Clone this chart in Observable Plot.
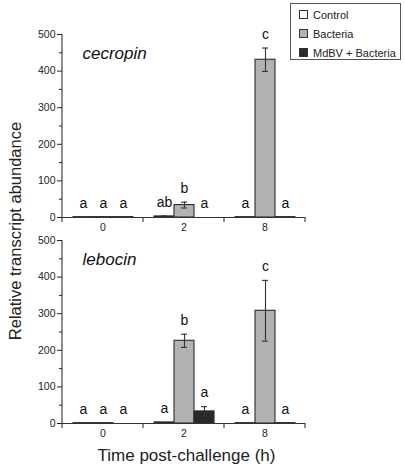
<!DOCTYPE html>
<html><head><meta charset="utf-8">
<script src="https://cdn.jsdelivr.net/npm/d3@7"></script>
<script src="https://cdn.jsdelivr.net/npm/@observablehq/plot@0.6"></script>
<style>
body{margin:0;background:#fff;font-family:"Liberation Sans",Arial,sans-serif;color:#222}
#wrap{position:relative;width:405px;height:468px;overflow:hidden}
.panel{position:absolute;left:0}
#ytitle{position:absolute;left:-115px;top:221px;width:260px;height:20px;line-height:20px;text-align:center;font-size:16.5px;transform:rotate(-90deg);transform-origin:center;white-space:nowrap}
#xtitle{position:absolute;left:0;top:446px;width:373px;line-height:20px;text-align:center;font-size:17px;white-space:nowrap}
#legend{position:absolute;left:290px;top:3px;width:109px;height:55px;border:1px solid #555;background:#fff;font-size:11px}
#legend .row{position:absolute;left:8px;height:14px;line-height:14px;white-space:nowrap}
#legend .sw{display:inline-block;width:7px;height:7px;border:1px solid #333;margin-right:5px;vertical-align:0px}
</style></head><body><div id="wrap"></div>
<script>
const times = ["0", "2", "8"];
const treatments = ["Control", "Bacteria", "MdBV + Bacteria"];
const cecropinMean = [1, 1, 1, 3, 34, 0, 1, 431, 1];
const cecropinErr = [0, 0, 0, 1, 8, 0, 0, 32, 0];
const cecropinLetters = ["a", "a", "a", "ab", "b", "a", "a", "c", "a"];
const lebocinMean = [1, 1, 0, 3, 226, 33, 1, 308, 1];
const lebocinErr = [0, 0, 0, 0, 18, 13, 0, 83, 0];
const lebocinLetters = ["a", "a", "a", "a", "b", "a", "a", "c", "a"];
const yTicks = [0, 100, 200, 300, 400, 500];
const yMinor = [50, 150, 250, 350, 450];

function rows(mean, err, letters) {
  return mean.map((v, i) => ({time: times[Math.floor(i / 3)], treatment: treatments[i % 3], value: v, err: err[i], letter: letters[i]}));
}
const fills = ["#ffffff", "#b2b2b2", "#282828"];
const font = '"Liberation Sans", Arial, sans-serif';

function panel(gene, mean, err, letters, o) {
  const data = rows(mean, err, letters);
  const withErr = data.filter(d => d.err > 0);
  const p = Plot.plot({
    width: 405, height: o.height,
    marginLeft: 62, marginRight: 100, marginTop: o.mt, marginBottom: o.mb,
    style: {fontFamily: font, fontSize: "10.5px", color: "#222", background: "transparent", overflow: "visible"},
    fx: {domain: times, padding: 0, label: null},
    x: {domain: treatments, paddingInner: 0, paddingOuter: 0.46, axis: null},
    y: {domain: [0, 500], axis: null},
    color: {domain: treatments, range: fills},
    marks: [
      Plot.barY(data, {fx: "time", x: "treatment", y: "value", fill: "treatment", stroke: "#2a2a2a", strokeWidth: 1.1}),
      Plot.ruleX(withErr, {fx: "time", x: "treatment", y1: d => d.value - d.err, y2: d => d.value + d.err, stroke: "#333", strokeWidth: 1.1}),
      Plot.tickY(withErr, {fx: "time", x: "treatment", y: d => d.value + d.err, stroke: "#333", strokeWidth: 1.1, insetLeft: 7, insetRight: 7}),
      Plot.tickY(withErr, {fx: "time", x: "treatment", y: d => d.value - d.err, stroke: "#333", strokeWidth: 1.1, insetLeft: 7, insetRight: 7}),
      Plot.ruleY([0], {stroke: "#333", strokeWidth: 1.1}),
      Plot.text(data, {fx: "time", x: "treatment", y: d => d.value + d.err, text: "letter", dy: -14, fontSize: 14, lineAnchor: "middle", fill: "#111"}),
      Plot.axisY({ticks: yTicks, tickSize: 5, tickPadding: 2, label: null, fontSize: 10.5}),
      Plot.axisY({ticks: yMinor, tickSize: 3, text: null, label: null}),
      Plot.axisFx({anchor: "bottom", tickSize: 0, tickPadding: 6, label: null, fontSize: 10.5}),
      Plot.text([gene], {fx: () => times[0], frameAnchor: "top-left", dx: 20, dy: 19, text: d => d, fontSize: 17, fontStyle: "italic", lineAnchor: "middle", textAnchor: "start", fill: "#111"})
    ]
  });
  const svg = p.tagName.toLowerCase() === "svg" ? p : p.querySelector("svg");
  try {
    const fx = p.scale("fx"), y = p.scale("y");
    const y0 = y.apply(0), yTop = y.apply(500);
    const bounds = times.map(t => fx.apply(t)).concat([fx.apply(times[times.length - 1]) + fx.bandwidth]);
    const g = d3.select(svg).append("g").attr("stroke", "#333").attr("stroke-width", 1.1);
    bounds.forEach(bx => g.append("line").attr("x1", bx).attr("x2", bx).attr("y1", y0).attr("y2", y0 + 5));
    g.append("line").attr("x1", bounds[0]).attr("x2", bounds[0]).attr("y1", yTop).attr("y2", y0);
  } catch (e) { console.error(e); }
  p.classList.add("panel");
  p.style.top = o.top + "px";
  return p;
}

const wrap = document.getElementById("wrap");
wrap.appendChild(panel("cecropin", cecropinMean, cecropinErr, cecropinLetters, {height: 233, mt: 34, mb: 16, top: 0}));
wrap.appendChild(panel("lebocin", lebocinMean, lebocinErr, lebocinLetters, {height: 208, mt: 7, mb: 18, top: 233}));

const yt = document.createElement("div"); yt.id = "ytitle"; yt.textContent = "Relative transcript abundance"; wrap.appendChild(yt);
const xt = document.createElement("div"); xt.id = "xtitle"; xt.textContent = "Time post-challenge (h)"; wrap.appendChild(xt);
const lg = document.createElement("div"); lg.id = "legend";
treatments.forEach((t, i) => {
  const r = document.createElement("div"); r.className = "row"; r.style.top = (4 + i * 19) + "px";
  const s = document.createElement("span"); s.className = "sw"; s.style.background = fills[i];
  r.appendChild(s); r.appendChild(document.createTextNode(t)); lg.appendChild(r);
});
wrap.appendChild(lg);
</script></body></html>
